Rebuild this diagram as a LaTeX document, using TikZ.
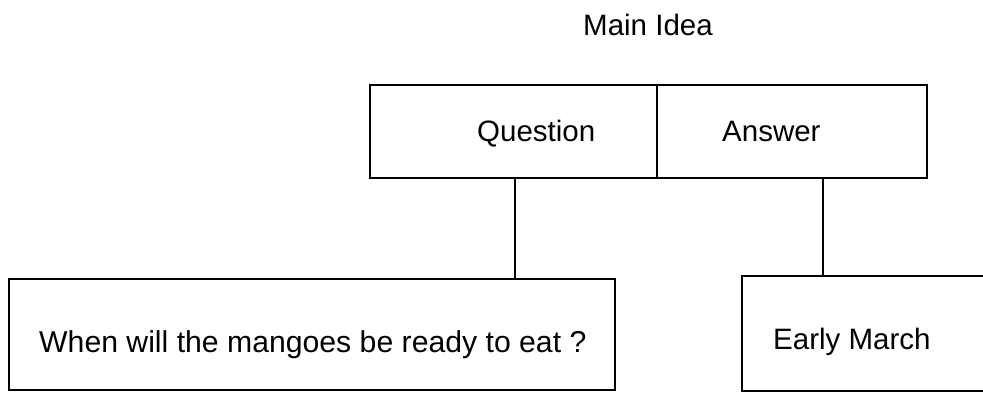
\documentclass[tikz,border=0pt]{standalone}
\usepackage{fontspec}
\setmainfont{Liberation Sans}
\begin{document}
\begin{tikzpicture}[x=1pt,y=-1pt,
  cell/.style={draw=black,line width=1.3pt,rectangle,inner sep=0pt,outer sep=0pt},
  lbl/.style={anchor=base west,inner sep=0pt,font=\fontsize{29.5}{34}\selectfont},
  link/.style={draw=black,line width=1.3pt}]
\useasboundingbox (0,0) rectangle (983,392);
\clip (0,0) rectangle (983,392);
\fill[white] (0,0) rectangle (983,392);
% boxes
\node[cell,minimum width=287pt,minimum height=93pt] (qcell) at (513.5,131.5) {};
\node[cell,minimum width=270pt,minimum height=93pt] (acell) at (792,131.5) {};
\node[cell,minimum width=606pt,minimum height=111pt] (qbox) at (312,334.5) {};
\node[cell,minimum width=258pt,minimum height=115pt] (abox) at (871,333.5) {};
% texts
\node[lbl] (title) at (583,35) {Main Idea};
\node[lbl] (qt) at (477,141) {Question};
\node[lbl] (at) at (722,141) {Answer};
\node[lbl,font=\fontsize{30.2}{34}\selectfont] (qtext) at (39,352) {When will the mangoes be ready to eat ?};
\node[lbl] (atext) at (773,349) {Early March};
% connectors
\coordinate (cq) at (515,0);
\coordinate (ca) at (823,0);
\draw[link] (qcell.south -| cq) -- (qbox.north -| cq);
\draw[link] (acell.south -| ca) -- (abox.north -| ca);
\end{tikzpicture}
\end{document}
